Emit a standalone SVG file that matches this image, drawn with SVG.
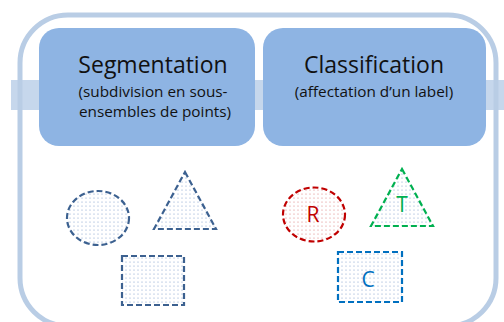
<svg xmlns="http://www.w3.org/2000/svg" width="504" height="322" viewBox="0 0 504 322">
<style>
.frame{fill:none;stroke:#b9cde5;stroke-width:5}
.band{fill:#c6d7ec}
.box{fill:#8eb4e3}
.title{font-family:"Open Sans","Liberation Sans",sans-serif;font-size:23px;fill:#111;text-anchor:middle}
.sub{font-family:"Open Sans","Liberation Sans",sans-serif;font-size:15.3px;fill:#111;text-anchor:middle}
.shape{stroke-width:2.2;stroke-dasharray:6 3}
.navy{stroke:#3c6190;fill:url(#dotsBlue)}
.red{stroke:#c00000;fill:url(#dotsRed)}
.green{stroke:#00b050;fill:url(#dotsBlue)}
.blue{stroke:#0070c0;fill:url(#dotsBlue)}
.lbl{font-family:"Open Sans","Liberation Sans",sans-serif;font-size:21px;text-anchor:middle}
</style>
<defs>
<pattern id="dotsBlue" width="4" height="4" patternUnits="userSpaceOnUse">
<rect width="4" height="4" fill="#ffffff"/>
<circle cx="2" cy="2" r="0.6" fill="#7f9fcc"/>
</pattern>
<pattern id="dotsRed" width="4" height="4" patternUnits="userSpaceOnUse">
<rect width="4" height="4" fill="#ffffff"/>
<circle cx="2" cy="2" r="0.6" fill="#dc7e7e"/>
</pattern>
</defs>
<rect class="band" x="11" y="80" width="493" height="30"/>
<rect class="frame" x="20" y="15" width="476" height="311" rx="48" ry="48"/>
<g id="segmentation">
<rect class="box" x="39" y="28" width="216" height="118" rx="20" ry="20"/>
<text class="title" x="153" y="73">Segmentation</text>
<text class="sub" x="153" y="97">(subdivision en sous-</text>
<text class="sub" x="155" y="117">ensembles de points)</text>
</g>
<g id="classification">
<rect class="box" x="263" y="28" width="223" height="118" rx="20" ry="20"/>
<text class="title" x="374" y="73">Classification</text>
<text class="sub" x="374" y="97">(affectation d’un label)</text>
</g>
<g id="seg-ellipse">
<ellipse class="shape navy" cx="98" cy="218" rx="31" ry="27"/>
</g>
<g id="seg-triangle">
<polygon class="shape navy" points="185,172 216,229 154,229"/>
</g>
<g id="seg-rect">
<rect class="shape navy" x="122" y="256" width="62" height="49"/>
</g>
<g id="cls-R">
<ellipse class="shape red" cx="314" cy="214.5" rx="31" ry="27"/>
<text class="lbl" x="313" y="222" fill="#c00000">R</text>
</g>
<g id="cls-T">
<polygon class="shape green" points="402,169 433,226 371,226"/>
<text class="lbl" x="402" y="212" fill="#00b050">T</text>
</g>
<g id="cls-C">
<rect class="shape blue" x="338" y="252" width="64" height="50"/>
<text class="lbl" x="368" y="287" fill="#0070c0">C</text>
</g>
<g id="connectors"></g>
</svg>
